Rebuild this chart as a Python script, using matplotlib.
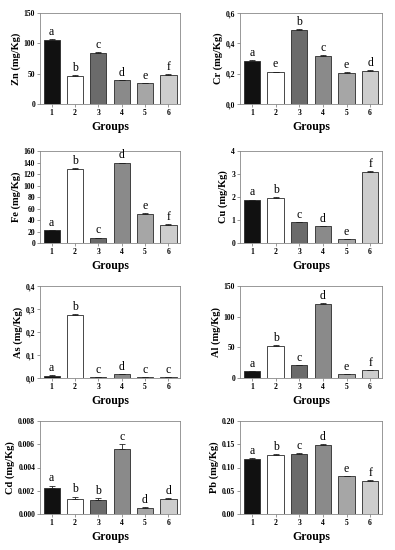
import numpy as np
import matplotlib.pyplot as plt
from matplotlib.ticker import FuncFormatter

groups = [1, 2, 3, 4, 5, 6]
bar_colors = ['#111111', '#ffffff', '#6b6b6b', '#8a8a8a', '#a6a6a6', '#cdcdcd']

zn = [105, 46, 84, 39, 34, 48]
zn_err = [2, 1, 1, 1, 0.8, 1]
zn_let = ['a', 'b', 'c', 'd', 'e', 'f']

cr = [0.283, 0.21, 0.49, 0.318, 0.205, 0.218]
cr_err = [0.008, 0.004, 0.006, 0.005, 0.004, 0.004]
cr_let = ['a', 'e', 'b', 'c', 'e', 'd']

fe = [22, 129, 9, 139, 51, 32]
fe_err = [0.6, 1.2, 0.5, 1.0, 0.8, 0.6]
fe_let = ['a', 'b', 'c', 'd', 'e', 'f']

cu = [1.85, 1.97, 0.9, 0.72, 0.18, 3.07]
cu_err = [0.04, 0.03, 0.02, 0.02, 0.01, 0.04]
cu_let = ['a', 'b', 'c', 'd', 'e', 'f']

as_ = [0.010, 0.272, 0.005, 0.016, 0.003, 0.005]
as_err = [0.002, 0.007, 0.001, 0.003, 0.001, 0.001]
as_let = ['a', 'b', 'c', 'd', 'c', 'c']

al = [11, 52, 21, 121, 6, 13]
al_err = [0.5, 1, 0.6, 1.2, 0.3, 0.4]
al_let = ['a', 'b', 'c', 'd', 'e', 'f']

cd = [0.00225, 0.0013, 0.00118, 0.0056, 0.0005, 0.00127]
cd_err = [0.0002, 0.0002, 0.0002, 0.00045, 0.00012, 0.0001]
cd_let = ['a', 'b', 'b', 'c', 'd', 'd']

pb = [0.119, 0.127, 0.130, 0.149, 0.081, 0.072]
pb_err = [0.0015, 0.0015, 0.0015, 0.0015, 0.0015, 0.0005]
pb_let = ['a', 'b', 'c', 'd', 'e', 'f']

panels = [
    ('Zn', zn, zn_err, zn_let, 150, 50, '{:.0f}'),
    ('Cr', cr, cr_err, cr_let, 0.6, 0.2, '{:.1f},'),
    ('Fe', fe, fe_err, fe_let, 160, 20, '{:.0f}'),
    ('Cu', cu, cu_err, cu_let, 4, 1, '{:.0f}'),
    ('As', as_, as_err, as_let, 0.4, 0.1, '{:.1f},'),
    ('Al', al, al_err, al_let, 150, 50, '{:.0f}'),
    ('Cd', cd, cd_err, cd_let, 0.008, 0.002, '{:.3f}'),
    ('Pb', pb, pb_err, pb_let, 0.20, 0.05, '{:.2f}'),
]

W, H = 395, 550
cols = [(40, 180), (240, 382)]
rows = [(13, 104), (151, 243), (286, 378), (421, 514)]

serif = ['Liberation Serif', 'DejaVu Serif']
fig = plt.figure(figsize=(W / 100, H / 100), dpi=100)

for i, (name, vals, errs, lets, ymax, step, fmt) in enumerate(panels):
    (x0, x1), (y0, y1) = cols[i % 2], rows[i // 2]
    ax = fig.add_axes([x0 / W, 1 - y1 / H, (x1 - x0) / W, (y1 - y0) / H])
    ax.bar(groups, vals, width=0.7, color=bar_colors, edgecolor='#2a2a2a',
           linewidth=0.6, zorder=2)
    ax.errorbar(groups, vals, yerr=[np.zeros(6), errs], fmt='none',
                ecolor='#222222', elinewidth=0.6, capsize=2, capthick=0.6, zorder=3)
    for g, v, e, t in zip(groups, vals, errs, lets):
        ax.text(g, v + e + ymax * 0.012, t, ha='center', va='bottom',
                family=serif, fontsize=8.5)
    ax.set_xlim(0.5, 6.5)
    ax.set_ylim(0, ymax)
    ax.set_yticks(np.arange(0, ymax + step / 2, step))
    ax.set_xticks(groups)
    if fmt.endswith(','):
        f0 = fmt[:-1]
        ax.yaxis.set_major_formatter(FuncFormatter(lambda v, p, f0=f0: f0.format(v).replace('.', ',')))
    else:
        ax.yaxis.set_major_formatter(FuncFormatter(lambda v, p, fmt=fmt: fmt.format(v)))
    for s in ax.spines.values():
        s.set_color('#888888')
        s.set_linewidth(0.6)
    ax.tick_params(length=2, width=0.6, color='#888888', pad=1.5, labelsize=5.5)
    for lab in ax.get_xticklabels() + ax.get_yticklabels():
        lab.set_family(serif)
        lab.set_fontweight('bold')
    ax.set_ylabel(f'{name} (mg/Kg)', family=serif, fontweight='bold', fontsize=7.5, labelpad=2)
    ax.set_xlabel('Groups', family=serif, fontweight='bold', fontsize=8.5, labelpad=3)

fig.savefig('out.png', dpi=100)
